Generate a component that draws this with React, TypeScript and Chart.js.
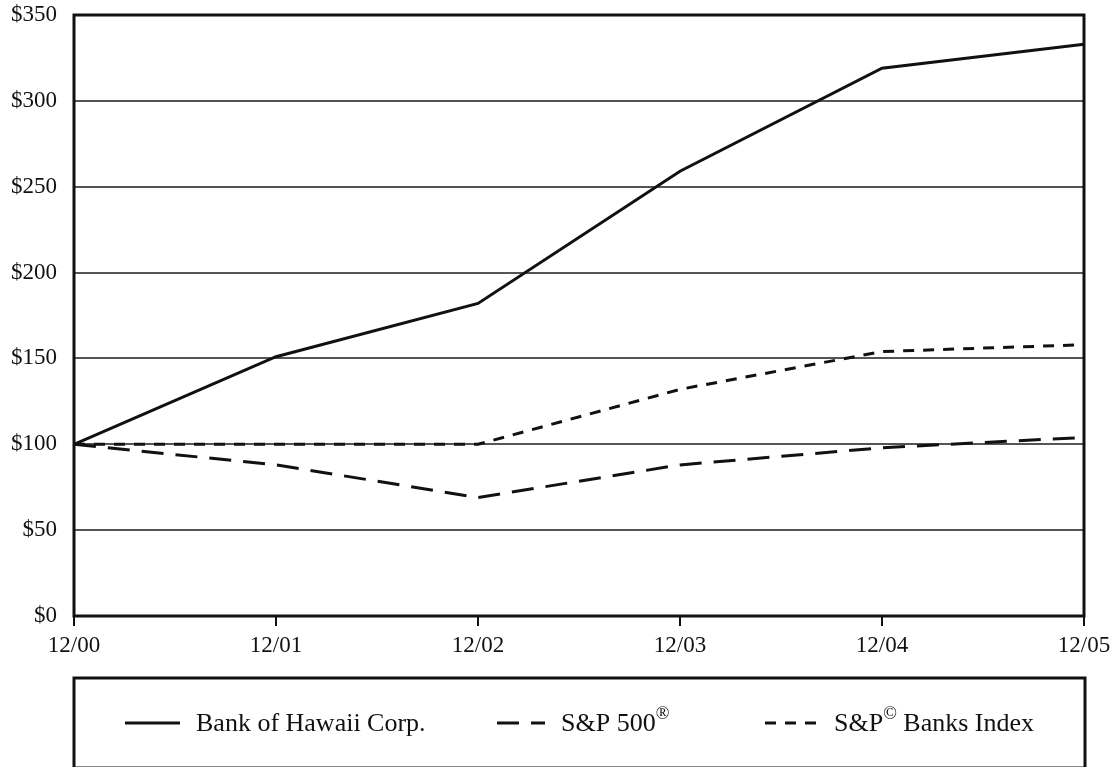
import React, { useEffect, useRef } from 'react';
import { Chart, registerables } from 'chart.js';

Chart.register(...registerables);

const categories = ['12/00', '12/01', '12/02', '12/03', '12/04', '12/05'];
const bankOfHawaii = [100, 151, 182, 259, 319, 333];
const sp500 = [100, 88, 69, 88, 98, 104];
const spBanks = [100, 100, 100, 132, 154, 158];
const seriesNames = ['Bank of Hawaii Corp.', 'S&P 500®', 'S&P© Banks Index'];
const yMin = 0;
const yMax = 350;
const yStep = 50;

const FONT = '"Liberation Serif", "Times New Roman", serif';
const dashes: number[][] = [[], [22, 12], [11, 9]];

function drawRich(ctx: CanvasRenderingContext2D, text: string, x: number, y: number, size: number) {
  let cx = x;
  for (const ch of Array.from(text)) {
    const sup = ch === '®' || ch === '©';
    const s = sup ? Math.round(size * 0.68) : size;
    ctx.font = `${s}px ${FONT}`;
    ctx.fillText(ch, cx, sup ? y - size * 0.36 : y);
    cx += ctx.measureText(ch).width;
  }
}

const framePlugin = {
  id: 'frameAndLegend',
  afterDraw(chart: any) {
    const { ctx, chartArea } = chart;
    const { left, right, top, bottom } = chartArea;
    ctx.save();
    ctx.strokeStyle = '#111';
    ctx.lineWidth = 3;
    ctx.strokeRect(left, top, right - left, bottom - top);
    const boxTop = bottom + 62;
    ctx.strokeRect(left, boxTop, right - left + 1, 90);
    const cy = boxTop + 45;
    const sampleStarts = [51, 423, 691];
    const sampleLen = [55, 48, 53];
    ctx.textBaseline = 'middle';
    ctx.fillStyle = '#111';
    chart.data.datasets.forEach((ds: any, i: number) => {
      const sx = left + sampleStarts[i];
      ctx.beginPath();
      ctx.setLineDash(ds.borderDash || []);
      ctx.lineWidth = 3;
      ctx.moveTo(sx, cy);
      ctx.lineTo(sx + sampleLen[i], cy);
      ctx.stroke();
      ctx.setLineDash([]);
      drawRich(ctx, ds.label, sx + sampleLen[i] + 16, cy + 1, 26);
    });
    ctx.restore();
  },
};

export default function App() {
  const ref = useRef<HTMLCanvasElement>(null);
  useEffect(() => {
    if (!ref.current) return;
    const chart = new Chart(ref.current, {
      type: 'line',
      data: {
        labels: categories,
        datasets: [bankOfHawaii, sp500, spBanks].map((d, i) => ({
          label: seriesNames[i],
          data: d,
          borderColor: '#111',
          borderWidth: 3,
          borderDash: dashes[i],
          pointRadius: 0,
          tension: 0,
          fill: false,
        })),
      },
      options: {
        responsive: false,
        animation: false,
        layout: { padding: { left: 0, top: 15, right: 30, bottom: 0 } },
        plugins: { legend: { display: false }, tooltip: { enabled: false } },
        scales: {
          x: {
            offset: false,
            grid: { display: true, drawOnChartArea: false, drawTicks: true, tickLength: 10, color: '#111', lineWidth: 2 },
            border: { display: false },
            ticks: { color: '#111', font: { family: FONT, size: 23 }, padding: 6, maxRotation: 0 },
            afterFit: (s: any) => { s.height = 151; s.paddingLeft = 0; s.paddingRight = 0; },
          },
          y: {
            min: yMin,
            max: yMax,
            grid: { color: '#555', lineWidth: 2, drawTicks: false },
            border: { display: false },
            ticks: {
              stepSize: yStep,
              color: '#111',
              font: { family: FONT, size: 23 },
              padding: 17,
              callback: (v: any) => '$' + v,
            },
            afterFit: (s: any) => { s.width = 74; s.paddingTop = 0; s.paddingBottom = 0; },
          },
        },
      },
      plugins: [framePlugin],
    });
    return () => chart.destroy();
  }, []);
  return (
    <div style={{ position: 'absolute', left: 0, top: 0, width: 1114, height: 767, background: '#fff' }}>
      <canvas ref={ref} width={1114} height={767} />
    </div>
  );
}
